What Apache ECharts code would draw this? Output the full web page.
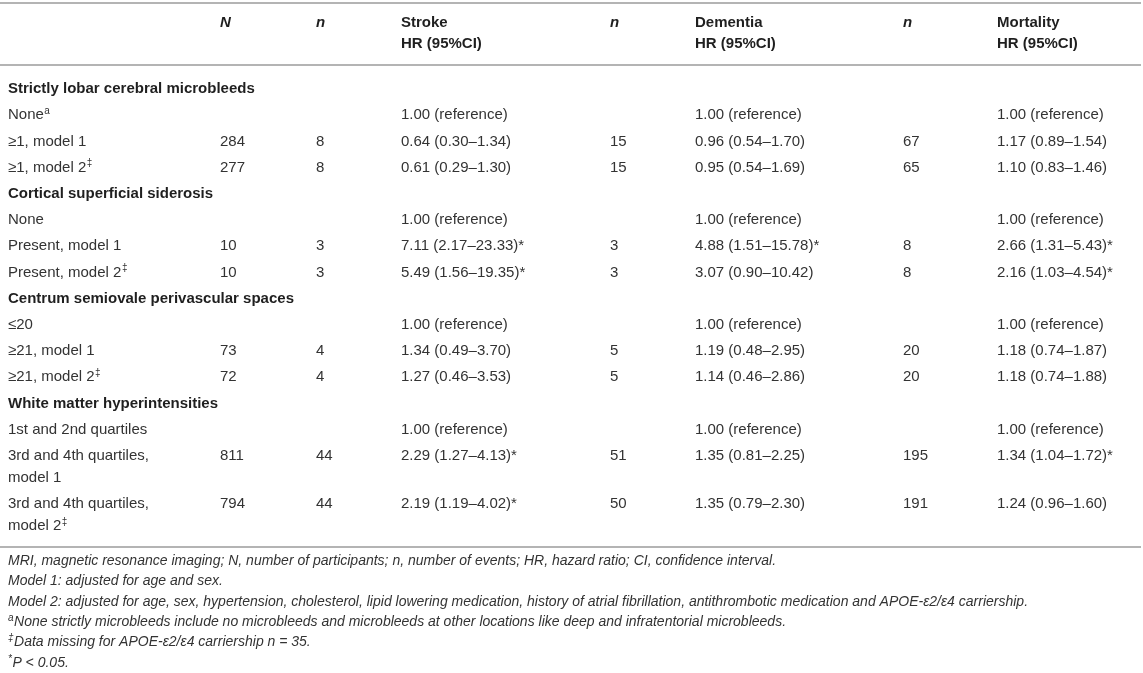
<!DOCTYPE html>
<html><head><meta charset="utf-8">
<script src="https://cdn.jsdelivr.net/npm/echarts@6/dist/echarts.min.js"></script>
<style>html,body{margin:0;padding:0;background:#fff}#c{width:1143px;height:673px}</style>
</head><body><div id="c"></div>
<script>
// ---------- DATA ----------
const headers = ['', 'N', 'n', 'Stroke\nHR (95%CI)', 'n', 'Dementia\nHR (95%CI)', 'n', 'Mortality\nHR (95%CI)'];
const sections = ['Strictly lobar cerebral microbleeds', 'Cortical superficial siderosis',
  'Centrum semiovale perivascular spaces', 'White matter hyperintensities'];
const rowLabels = ['None', '≥1, model 1', '≥1, model 2',
  'None', 'Present, model 1', 'Present, model 2',
  '≤20', '≥21, model 1', '≥21, model 2',
  '1st and 2nd quartiles', '3rd and 4th quartiles,\nmodel 1', '3rd and 4th quartiles,\nmodel 2'];
const rowMarks = ['a', '', '‡', '', '', '‡', '', '', '‡', '', '', '‡'];
const N = ['', '284', '277', '', '10', '10', '', '73', '72', '', '811', '794'];
const nStroke = ['', '8', '8', '', '3', '3', '', '4', '4', '', '44', '44'];
const strokeHR = ['1.00 (reference)', '0.64 (0.30–1.34)', '0.61 (0.29–1.30)',
  '1.00 (reference)', '7.11 (2.17–23.33)*', '5.49 (1.56–19.35)*',
  '1.00 (reference)', '1.34 (0.49–3.70)', '1.27 (0.46–3.53)',
  '1.00 (reference)', '2.29 (1.27–4.13)*', '2.19 (1.19–4.02)*'];
const nDementia = ['', '15', '15', '', '3', '3', '', '5', '5', '', '51', '50'];
const dementiaHR = ['1.00 (reference)', '0.96 (0.54–1.70)', '0.95 (0.54–1.69)',
  '1.00 (reference)', '4.88 (1.51–15.78)*', '3.07 (0.90–10.42)',
  '1.00 (reference)', '1.19 (0.48–2.95)', '1.14 (0.46–2.86)',
  '1.00 (reference)', '1.35 (0.81–2.25)', '1.35 (0.79–2.30)'];
const nMortality = ['', '67', '65', '', '8', '8', '', '20', '20', '', '195', '191'];
const mortalityHR = ['1.00 (reference)', '1.17 (0.89–1.54)', '1.10 (0.83–1.46)',
  '1.00 (reference)', '2.66 (1.31–5.43)*', '2.16 (1.03–4.54)*',
  '1.00 (reference)', '1.18 (0.74–1.87)', '1.18 (0.74–1.88)',
  '1.00 (reference)', '1.34 (1.04–1.72)*', '1.24 (0.96–1.60)'];
const footnoteMarks = ['', '', '', 'a', '‡', '*'];
const footnoteTexts = [
  'MRI, magnetic resonance imaging; N, number of participants; n, number of events; HR, hazard ratio; CI, confidence interval.',
  'Model 1: adjusted for age and sex.',
  'Model 2: adjusted for age, sex, hypertension, cholesterol, lipid lowering medication, history of atrial fibrillation, antithrombotic medication and APOE-ε2/ε4 carriership.',
  'None strictly microbleeds include no microbleeds and microbleeds at other locations like deep and infratentorial microbleeds.',
  'Data missing for APOE-ε2/ε4 carriership n = 35.',
  'P < 0.05.'];

// ---------- LAYOUT / STYLE ----------
const W = 1143, H = 673;
const FAM = '"Liberation Sans", Arial, Helvetica, sans-serif';
const F_REG = '15px ' + FAM;
const F_BOLD = 'bold 15px ' + FAM;
const F_BI = 'italic bold 15px ' + FAM;
const F_FOOT = 'italic 14px ' + FAM;
const F_SUP = '10px ' + FAM;
const F_SUP_I = 'italic 10px ' + FAM;
const C_TXT = '#333333', C_BOLD = '#1f1f1f';
const colX = [8, 220, 316, 401, 610, 695, 903, 997];
const headY = 23, headLH = 21;
const firstRowY = 89, rowPitch = 26.2, lineH = 22;
const footY0 = 561, footPitch = 20.4;
const rules = [3, 65, 547];

const mctx = document.createElement('canvas').getContext('2d');
function measure(t, f) { mctx.font = f; return mctx.measureText(t).width; }

// build cells
const cells = [];
headers.forEach((h, ci) => {
  if (!h) return;
  cells.push({ x: colX[ci], y: headY, text: h, font: (h === 'N' || h === 'n') ? F_BI : F_BOLD, color: C_BOLD, lh: headLH });
});
let y = firstRowY;
const dataCols = [N, nStroke, strokeHR, nDementia, dementiaHR, nMortality, mortalityHR];
sections.forEach((s, si) => {
  cells.push({ x: colX[0], y: y, text: s, font: F_BOLD, color: C_BOLD, lh: lineH });
  y += rowPitch;
  for (let k = 0; k < 3; k++) {
    const r = si * 3 + k;
    const lbl = rowLabels[r];
    cells.push({ x: colX[0], y: y, text: lbl, font: F_REG, color: C_TXT, lh: lineH, sup: rowMarks[r] });
    dataCols.forEach((col, j) => {
      if (col[r]) cells.push({ x: colX[j + 1], y: y, text: col[r], font: F_REG, color: C_TXT, lh: lineH });
    });
    y += rowPitch + (lbl.split('\n').length - 1) * lineH;
  }
});
footnoteTexts.forEach((t, i) => {
  cells.push({ x: colX[0], y: footY0 + i * footPitch, text: t, font: F_FOOT, color: C_TXT, lh: footPitch, pre: footnoteMarks[i] });
});

const chart = echarts.init(document.getElementById('c'), null, { renderer: 'canvas' });
chart.setOption({
  animation: false,
  backgroundColor: '#ffffff',
  grid: { left: 0, right: 0, top: 0, bottom: 0 },
  xAxis: { type: 'value', min: 0, max: W, show: false },
  yAxis: { type: 'value', min: 0, max: H, inverse: true, show: false },
  series: [
    {
      type: 'custom', silent: true, clip: false,
      data: rules.map(r => [r]),
      renderItem: (params, api) => {
        const a = api.coord([0, api.value(0)]);
        const b = api.coord([1141, api.value(0)]);
        return { type: 'line', shape: { x1: a[0], y1: a[1], x2: b[0], y2: b[1] },
          style: { stroke: '#b4b4b4', lineWidth: 2 } };
      }
    },
    {
      type: 'custom', silent: true, clip: false,
      data: cells.map(c => [c.x, c.y]),
      renderItem: (params, api) => {
        const c = cells[params.dataIndex];
        const p = api.coord([api.value(0), api.value(1)]);
        const children = [];
        let x0 = p[0];
        if (c.pre) {
          children.push({ type: 'text', x: x0, y: p[1] - 4,
            style: { text: c.pre, font: F_SUP_I, fill: c.color, align: 'left', verticalAlign: 'middle' } });
          x0 += measure(c.pre, F_SUP_I) + 0.5;
        }
        const lines = c.text.split('\n');
        lines.forEach((ln, k) => {
          children.push({ type: 'text', x: x0, y: p[1] + k * c.lh,
            style: { text: ln, font: c.font, fill: c.color, align: 'left', verticalAlign: 'middle' } });
        });
        if (c.sup) {
          const last = lines[lines.length - 1];
          const w = measure(last, c.font);
          children.push({ type: 'text', x: x0 + w + 0.5, y: p[1] + (lines.length - 1) * c.lh - 4,
            style: { text: c.sup, font: F_SUP, fill: c.color, align: 'left', verticalAlign: 'middle' } });
        }
        return { type: 'group', children };
      }
    }
  ]
});
</script></body></html>
